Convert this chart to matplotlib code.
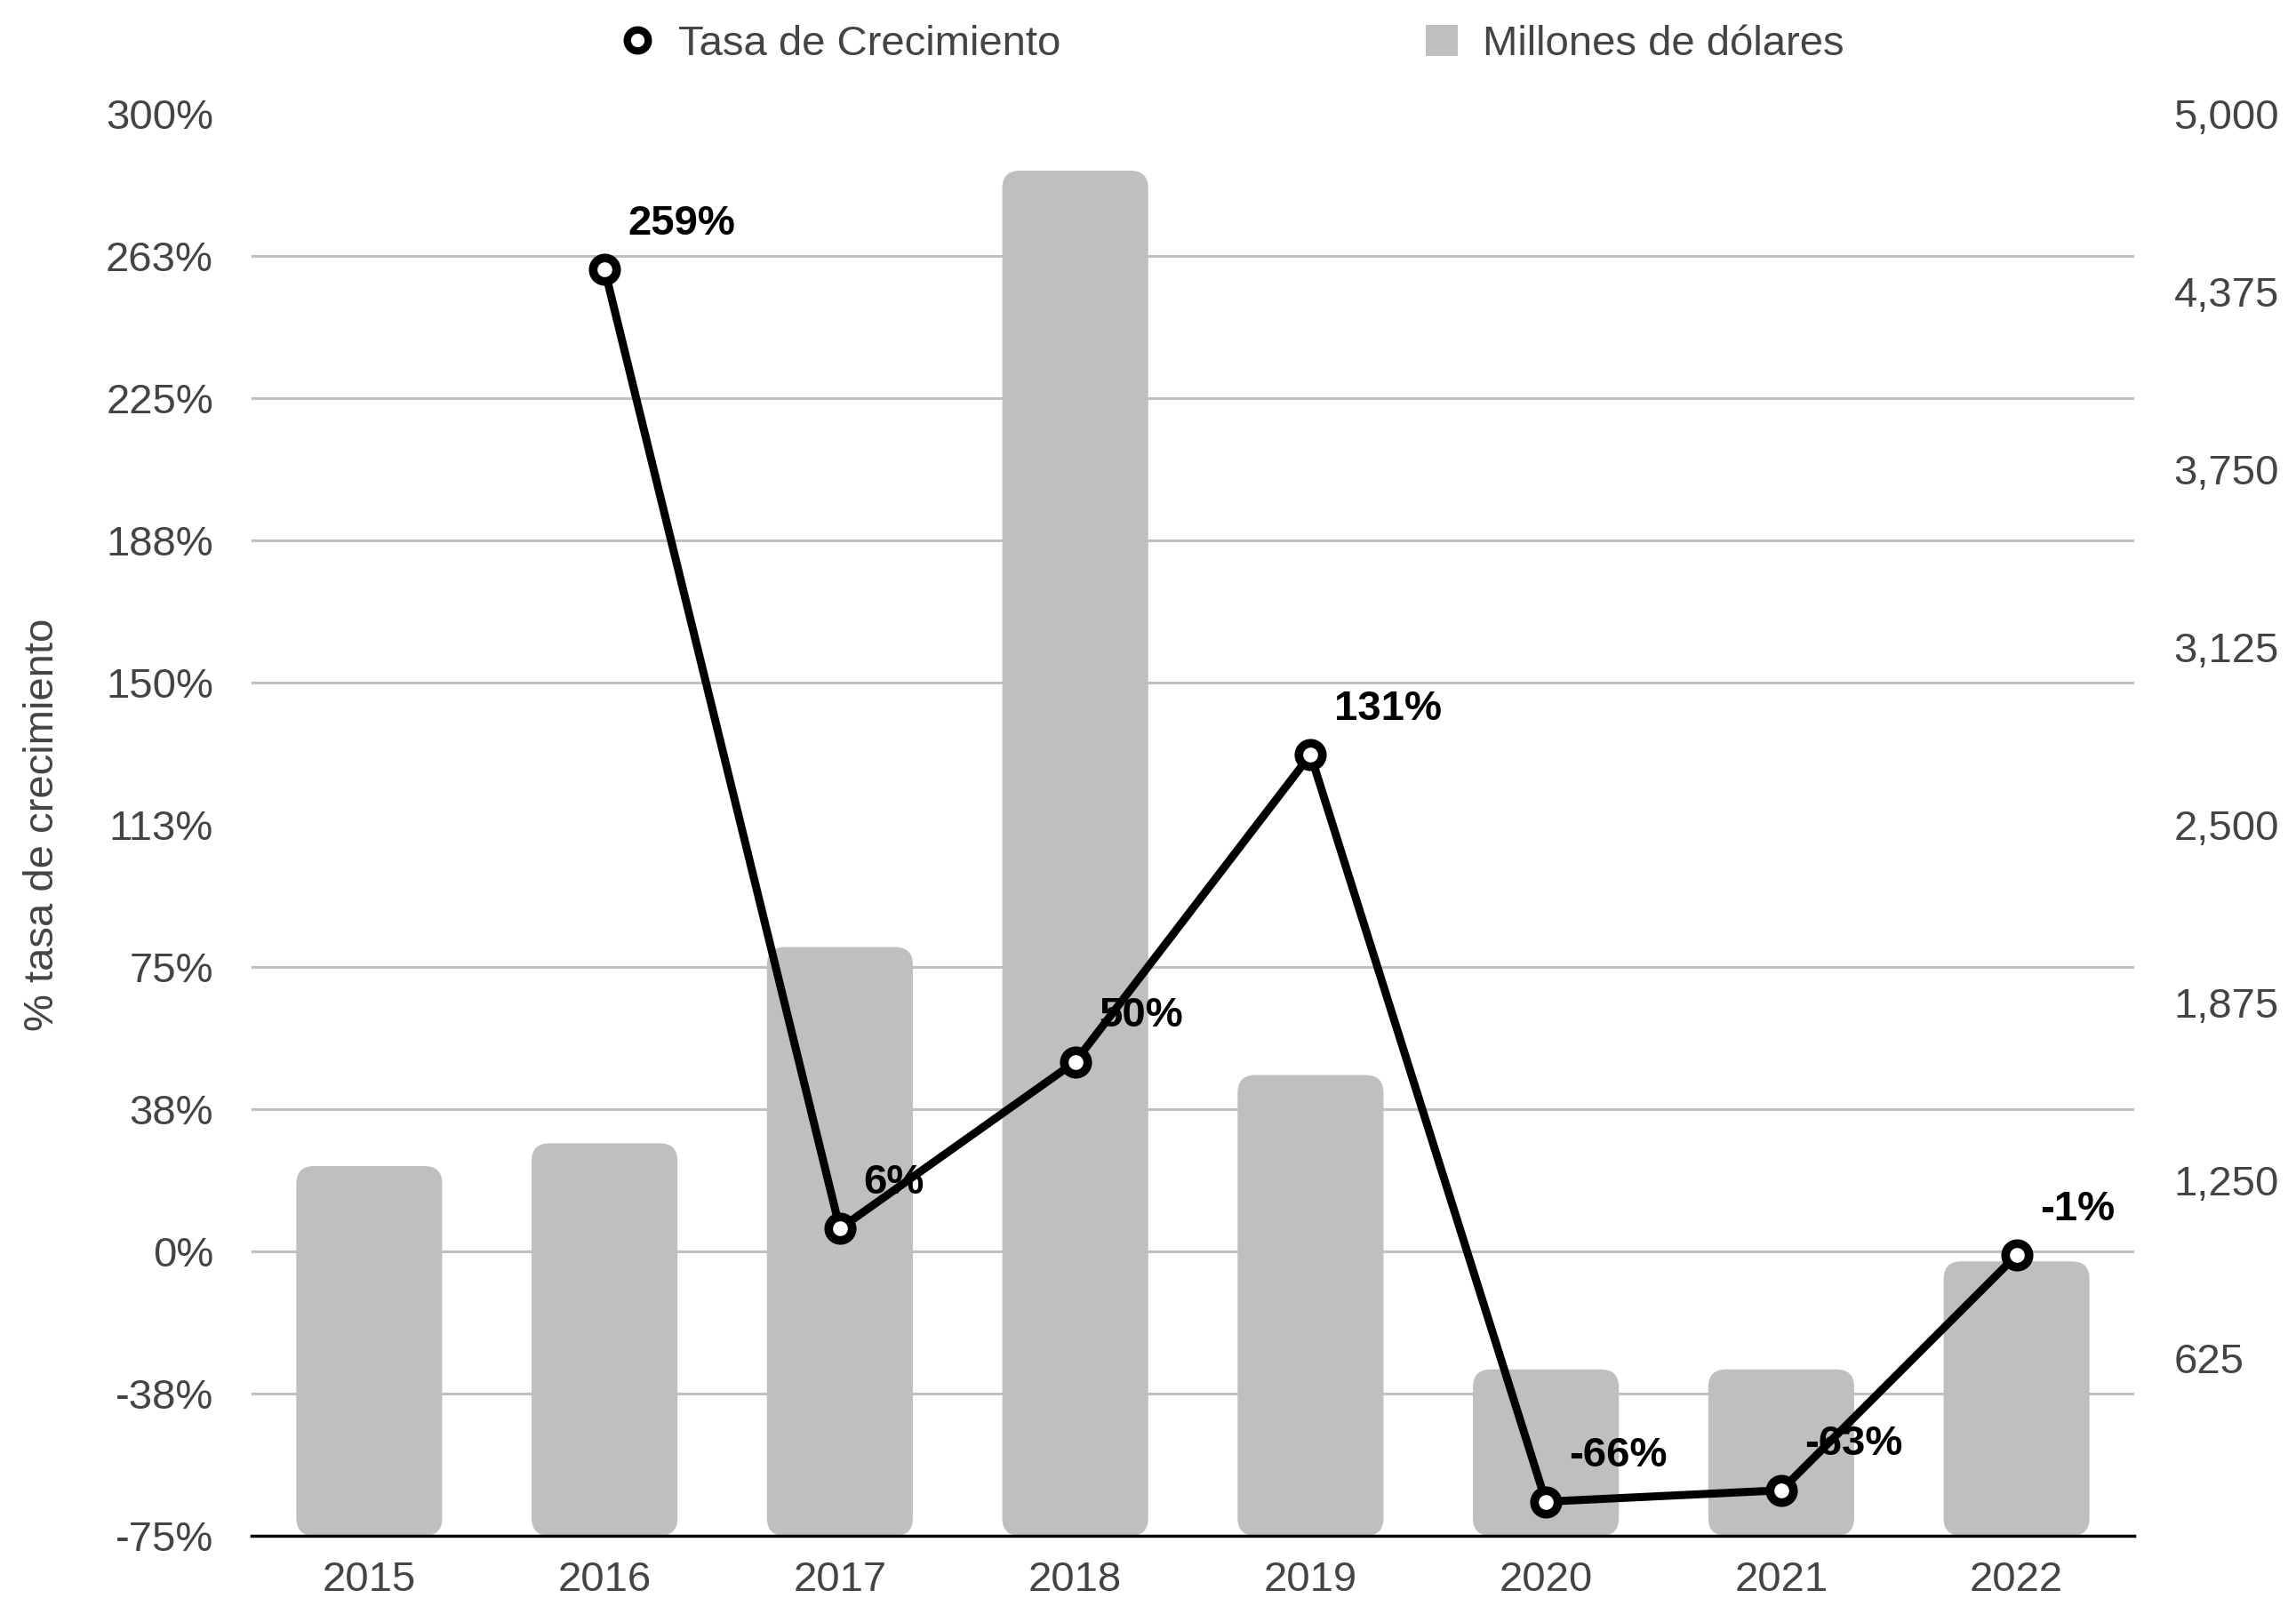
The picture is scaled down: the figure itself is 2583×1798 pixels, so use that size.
import matplotlib
matplotlib.use("Agg")
import matplotlib.pyplot as plt
import numpy as np
from matplotlib.patches import FancyBboxPatch, Patch
from matplotlib.lines import Line2D

plt.rcParams['font.family'] = ['Liberation Sans', 'DejaVu Sans']

years = ["2015", "2016", "2017", "2018", "2019", "2020", "2021", "2022"]
millones = [1300, 1380, 2070, 4800, 1620, 585, 585, 965]
tasa = [np.nan, 259, 6, 50, 131, -66, -63, -1]
tasa_labels = ["", "259%", "6%", "50%", "131%", "-66%", "-63%", "-1%"]
left_ticks = [-75, -37.5, 0, 37.5, 75, 112.5, 150, 187.5, 225, 262.5, 300]
left_tick_labels = ["-75%", "-38%", "0%", "38%", "75%", "113%", "150%", "188%", "225%", "263%", "300%"]
right_ticks = [625, 1250, 1875, 2500, 3125, 3750, 4375, 5000]
right_tick_labels = ["625", "1,250", "1,875", "2,500", "3,125", "3,750", "4,375", "5,000"]
grid_ticks = [0, 500, 1000, 1500, 2000, 2500, 3000, 3500, 4000, 4500, 5000]

W, H = 2583, 1798
fig = plt.figure(figsize=(W / 100, H / 100), dpi=100)
left, right, bottom, top = 283 / W, 2401 / W, 1 - 1728 / H, 1 - 128 / H
ax2 = fig.add_axes([left, bottom, right - left, top - bottom])  # bars (right axis)
ax = fig.add_axes([left, bottom, right - left, top - bottom], sharex=ax2)
ax.set_zorder(ax2.get_zorder() + 1)
ax.patch.set_visible(False)

FS = 34
tick_color = "#444444"
bar_color = "#bfbfbf"

x = np.arange(len(years))
ax2.set_xlim(-0.5, len(years) - 0.5)
ax2.set_ylim(0, 5000)
ax.set_ylim(-75, 300)

# bars with rounded corners
bars = ax2.bar(x, millones, width=0.62, color=bar_color, zorder=2)
ax_w_px = (right - left) * W
ax_h_px = (top - bottom) * H
xr = (len(years)) / ax_w_px
yr = 5000 / ax_h_px
aspect = yr / xr
rad_px = 20
for b in bars:
    bx, by = b.get_x(), b.get_y()
    bw, bh = b.get_width(), b.get_height()
    b.set_visible(False)
    p = FancyBboxPatch((bx, by), bw, bh,
                       boxstyle=f"round,pad=0,rounding_size={rad_px * xr}",
                       mutation_aspect=aspect, facecolor=bar_color,
                       edgecolor="none", zorder=2)
    ax2.add_patch(p)

# gridlines
ax2.set_yticks(grid_ticks, minor=True)
ax2.grid(which='minor', axis='y', color='#c0c0c0', linewidth=2.2)
ax2.grid(which='major', visible=False)
ax2.set_axisbelow(True)
ax2.tick_params(which='minor', length=0)

ax2.yaxis.tick_right()
ax2.set_yticks(right_ticks)
ax2.set_yticklabels(right_tick_labels)
ax2.tick_params(axis='y', which='major', length=0, pad=32, labelsize=FS, labelcolor=tick_color)
ax2.set_xticks(x)
ax2.set_xticklabels(years)
ax2.tick_params(axis='x', length=0, pad=20, labelsize=FS, labelcolor=tick_color)

for s in ['top', 'left', 'right']:
    ax2.spines[s].set_visible(False)
ax2.spines['bottom'].set_color('black')
ax2.spines['bottom'].set_linewidth(2.5)
ax2.spines['bottom'].set_zorder(5)

# line
ax.plot(x, tasa, color='black', linewidth=6.5, marker='o', markersize=19,
        markerfacecolor='white', markeredgecolor='black', markeredgewidth=7,
        zorder=4, solid_joinstyle='round')
for xi, v, lab in zip(x, tasa, tasa_labels):
    if lab:
        ax.annotate(lab, (xi, v), xytext=(19, 37), textcoords='offset points',
                    ha='left', va='center', fontsize=FS, fontweight='bold',
                    color='black', zorder=6)

ax.set_yticks(left_ticks)
ax.set_yticklabels(left_tick_labels)
ax.yaxis.tick_left()
ax.tick_params(axis='y', length=0, pad=31, labelsize=FS, labelcolor=tick_color)
ax.tick_params(axis='x', bottom=False, labelbottom=False)
for s in ax.spines.values():
    s.set_visible(False)
ax.set_ylabel("% tasa de crecimiento", fontsize=FS, color=tick_color)
ax.yaxis.set_label_coords(-(283 - 70) / ax_w_px, 0.5)

# legend
handles = [Line2D([], [], color='black', linestyle='none', marker='o', markersize=17,
                  markerfacecolor='white', markeredgewidth=6),
           Patch(facecolor=bar_color, edgecolor='none')]
leg = fig.legend(handles, ["Tasa de Crecimiento", "Millones de dólares"], ncol=2,
                 loc='center', bbox_to_anchor=(1387 / W, 1 - 50 / H), frameon=False,
                 fontsize=FS, handlelength=0.75, handleheight=0.75,
                 handletextpad=0.6, columnspacing=8.7, labelcolor=tick_color)

fig.savefig("out.png", dpi=100)
